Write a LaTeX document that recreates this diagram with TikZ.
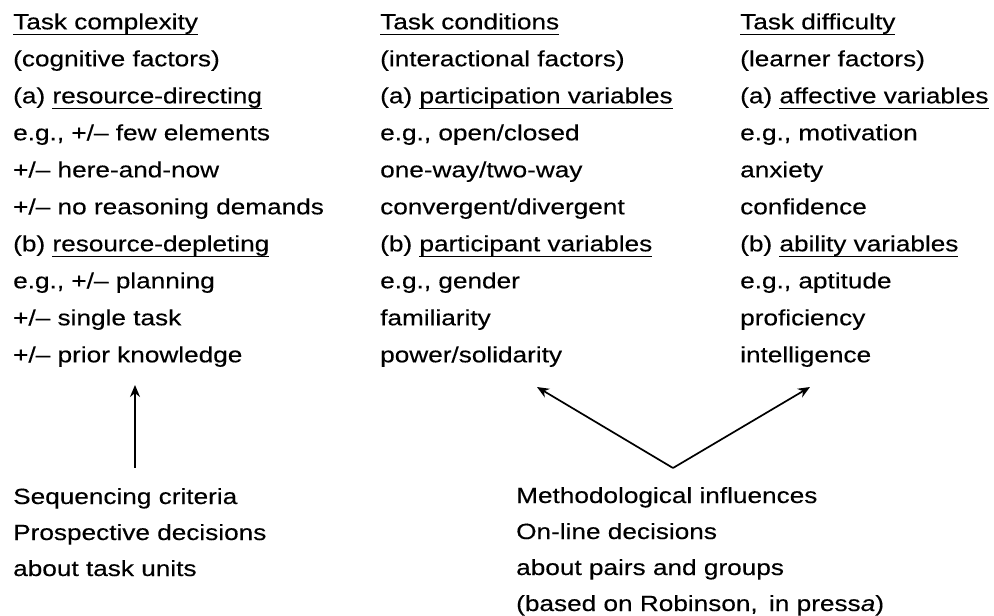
\documentclass[tikz,border=0pt]{standalone}
\usepackage{fontspec}
\setmainfont{Liberation Sans}[FakeStretch=1.19,FakeBold=0.3]
\usetikzlibrary{arrows.meta}
\newcommand\ulnn[1]{\setbox0\hbox{#1}\rlap{\rule[-5.8pt]{\wd0}{1.4pt}}\box0}
\begin{document}
\begin{tikzpicture}[x=1pt,y=-1pt,
  txt/.style={anchor=base west, inner sep=0pt, font=\fontsize{22}{26}\selectfont},
  arr/.style={-{Stealth[length=12pt,width=10pt]}, line width=1.7pt}]
\useasboundingbox (0,0) rectangle (994,616);
% column 1
\foreach \t [count=\i from 0] in {
  {\ulnn{Task complexity}},
  {(cognitive factors)},
  {(a) \ulnn{resource-directing}},
  {e.g., +/– few elements},
  {+/– here-and-now},
  {+/– no reasoning demands},
  {(b) \ulnn{resource-depleting}},
  {e.g., +/– planning},
  {+/– single task},
  {+/– prior knowledge}}
  \node[txt] (ca-\i) at (13,{29.3+37*\i}) {\t};
% column 2
\foreach \t [count=\i from 0] in {
  {\ulnn{Task conditions}},
  {(interactional factors)},
  {(a) \ulnn{participation variables}},
  {e.g., open/closed},
  {one-way/two-way},
  {convergent/divergent},
  {(b) \ulnn{participant variables}},
  {e.g., gender},
  {familiarity},
  {power/solidarity}}
  \node[txt] (cb-\i) at (380,{29.3+37*\i}) {\t};
% column 3
\foreach \t [count=\i from 0] in {
  {\ulnn{Task difficulty}},
  {(learner factors)},
  {(a) \ulnn{affective variables}},
  {e.g., motivation},
  {anxiety},
  {confidence},
  {(b) \ulnn{ability variables}},
  {e.g., aptitude},
  {proficiency},
  {intelligence}}
  \node[txt] (cc-\i) at (740,{29.3+37*\i}) {\t};
% bottom left
\foreach \t [count=\i from 0] in {
  {Sequencing criteria},
  {Prospective decisions},
  {about task units}}
  \node[txt] (ba-\i) at (13,{504+36*\i}) {\t};
% bottom middle
\foreach \t [count=\i from 0] in {
  {Methodological influences},
  {On-line decisions},
  {about pairs and groups},
  {(based on Robinson,\hspace{4pt} in press\textit{a})}}
  \node[txt] (bb-\i) at (516,{503+36*\i}) {\t};
% arrows
\coordinate (tipA) at (135,385);
\coordinate (tipB) at (537,387);
\coordinate (tipC) at (810,387);
\coordinate (apex) at (673,468);
\draw[arr] (ba-0.north -| tipA) ++(0,-20) -- (tipA);
\draw[arr] (apex) -- (tipB);
\draw[arr] (apex) -- (tipC);
\end{tikzpicture}
\end{document}
